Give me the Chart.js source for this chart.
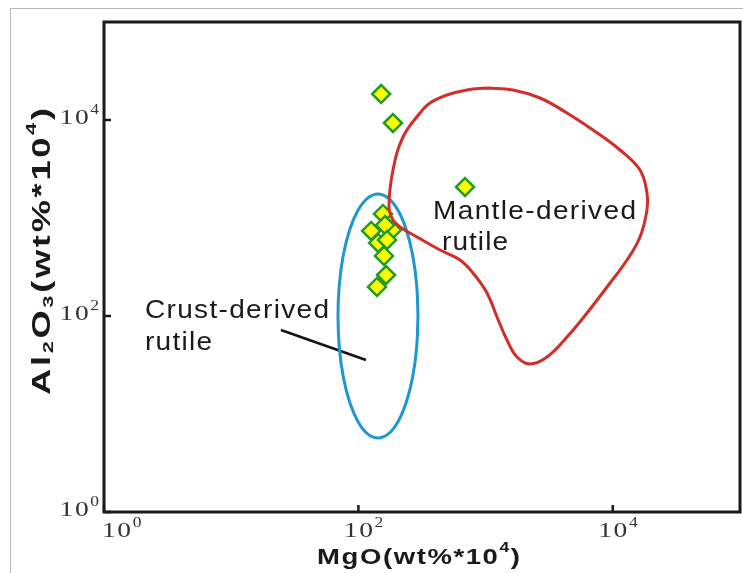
<!DOCTYPE html>
<html><head><meta charset="utf-8">
<style>html,body{margin:0;padding:0;background:#fff;}#c{display:block;}</style>
<script src="https://cdn.jsdelivr.net/npm/chart.js@4.4.1/dist/chart.umd.min.js"></script>
</head><body>
<canvas id="c" width="743" height="573"></canvas>
<script>
// ---- data ----
const xTicks = [1, 100, 10000];
const yTicks = [1, 100, 10000];
const tickBase = '10';
const xTickExponents = ['0', '2', '4'];
const yTickExponents = ['0', '2', '4'];

// rutile samples (MgO, Al2O3 in wt%*10^4)
const sampleMgO   = [184, 156, 126, 162, 143, 168, 159, 165, 140, 151, 187, 689];
const sampleAl2O3 = [755, 1099, 737, 848, 556, 597, 410, 262, 198, 18420, 9320, 2072];

// mantle-derived rutile field outline
const mantleMgO   = [1026, 1642, 2677, 4364, 6987, 11390, 16360, 18570, 18570, 16360, 12930, 9004, 6270, 4364, 3039, 2234, 1766, 1473, 1229, 1026, 796, 629, 438, 289, 212.3, 187.1, 174, 187.1, 224.2, 305, 365.5, 497, 714, 1026];
const mantleAl2O3 = [21210, 20240, 16770, 11790, 7907, 4941, 3090, 1799, 1207, 640, 372.8, 197.7, 107.3, 61.05, 38.15, 32.37, 38.15, 56.9, 97.7, 171.7, 274.7, 372.8, 471.6, 640, 809.6, 954, 1295, 3090, 6706, 11790, 14910, 17990, 20240, 21210];

// crust-derived rutile field outline
const crustMgO   = [294.1, 286.9, 266.9, 237.9, 204.8, 171.9, 142.6, 118.2, 99.3, 85.4, 76.1, 70.8, 69.1, 70.8, 76.1, 85.4, 99.3, 118.2, 142.6, 171.9, 204.8, 237.9, 266.9, 286.9, 294.1];
const crustAl2O3 = [100, 210.0, 419.4, 759.2, 1197.5, 1594, 1758, 1594, 1197.5, 759.2, 419.4, 210.0, 100, 47.6, 23.85, 13.17, 8.35, 6.27, 5.69, 6.27, 8.35, 13.17, 23.85, 47.6, 100];

// leader line from the crust label
const leaderMgO   = [24.6, 114.7];
const leaderAl2O3 = [72.0, 35.6];

const crustLabel  = ['Crust-derived', 'rutile'];
const mantleLabel = ['Mantle-derived', 'rutile'];
const xTitleSegs = [{t: 'MgO(wt%*10'}, {t: '4', k: 'sup'}, {t: ')'}];
const yTitleSegs = [{t: 'Al'}, {t: '2', k: 'sub'}, {t: 'O'}, {t: '3', k: 'sub'}, {t: '(wt%*10'}, {t: '4', k: 'sup'}, {t: ')'}];

const zip = (xs, ys) => xs.map((x, i) => ({x, y: ys[i]}));

// ---- text helper ----
function drawSegs(ctx, segs, x, y, o) {
  const st = o.stretch || 1;
  const items = [];
  segs.forEach(s => {
    const small = s.k === 'sup' || s.k === 'sub';
    const sz = small ? o.small : o.size;
    const dy = s.k === 'sup' ? o.supDy : (s.k === 'sub' ? o.subDy : 0);
    const font = `${o.weight || 'normal'} ${sz}px ${o.family}`;
    ctx.font = font;
    for (const ch of s.t) items.push({ch, font, dy, w: ctx.measureText(ch).width * st});
  });
  const natural = items.reduce((a, b) => a + b.w, 0);
  let sp = o.spacing || 0;
  if (o.width && items.length > 1) sp = (o.width - natural) / (items.length - 1);
  const total = natural + sp * (items.length - 1);
  let sx = o.align === 'center' ? x - total / 2 : (o.align === 'right' ? x - total : x);
  ctx.fillStyle = o.color || '#1a1a1a';
  ctx.textBaseline = 'alphabetic';
  ctx.textAlign = 'left';
  items.forEach(it => {
    ctx.font = it.font;
    ctx.save();
    ctx.translate(sx, y + it.dy);
    ctx.scale(st, 1);
    ctx.fillText(it.ch, 0, 0);
    ctx.restore();
    sx += it.w + sp;
  });
  return total;
}
function textWidth(ctx, str, font, sp, st) {
  ctx.font = font; let w = 0;
  for (const ch of str) w += ctx.measureText(ch).width * st;
  return w + sp * (str.length - 1);
}

const decor = {
  id: 'decor',
  beforeDraw(chart) {
    const ctx = chart.ctx;
    ctx.save();
    ctx.fillStyle = '#fff';
    ctx.fillRect(0, 0, chart.width, chart.height);
    ctx.strokeStyle = '#b8b8b8';
    ctx.lineWidth = 1;
    ctx.strokeRect(10.5, 8.5, 800, 700);
    ctx.restore();
  },
  afterDraw(chart) {
    const ctx = chart.ctx, a = chart.chartArea;
    const xs = chart.scales.x, ys = chart.scales.y;
    ctx.save();
    // frame
    ctx.strokeStyle = '#1a1a1a';
    ctx.lineWidth = 3;
    ctx.strokeRect(a.left, a.top, a.right - a.left, a.bottom - a.top);
    // inward ticks
    ctx.lineWidth = 2.5;
    ctx.beginPath();
    xTicks.forEach(v => { const px = xs.getPixelForValue(v); ctx.moveTo(px, a.bottom); ctx.lineTo(px, a.bottom - 7); });
    yTicks.forEach(v => { const py = ys.getPixelForValue(v); ctx.moveTo(a.left, py); ctx.lineTo(a.left + 7, py); });
    ctx.stroke();

    // tick labels
    const serif = '"Liberation Serif", "Times New Roman", serif';
    const mainFont = `22px ${serif}`;
    const tsp = 1.6, tst = 1.25;
    const tickOpt = {size: 22, small: 14, supDy: -10, family: serif, spacing: tsp, stretch: tst, color: '#333'};
    xTicks.forEach((v, i) => {
      const px = xs.getPixelForValue(v);
      const w10 = textWidth(ctx, tickBase, mainFont, tsp, tst);
      let left = px - w10 / 2;
      if (left < a.left - 2) left = a.left - 2;
      drawSegs(ctx, [{t: tickBase}, {t: xTickExponents[i], k: 'sup'}], left, a.bottom + 25,
        Object.assign({}, tickOpt, {align: 'left'}));
    });
    yTicks.forEach((v, i) => {
      const py = ys.getPixelForValue(v);
      drawSegs(ctx, [{t: tickBase}, {t: yTickExponents[i], k: 'sup'}], a.left - 5, py + 4,
        Object.assign({}, tickOpt, {align: 'right'}));
    });

    // axis titles
    const sans = '"Liberation Sans", Arial, sans-serif';
    drawSegs(ctx, xTitleSegs, (a.left + a.right) / 2 - 3.5, a.bottom + 52,
      {size: 22, small: 14, supDy: -12, weight: 'bold', family: sans, stretch: 1.25, width: 203, align: 'center'});
    ctx.save();
    ctx.translate(50, 251.5);
    ctx.rotate(-Math.PI / 2);
    drawSegs(ctx, yTitleSegs, 0, 0,
      {size: 25, small: 15, supDy: -14, subDy: 3, weight: 'bold', family: sans, stretch: 1.45, width: 287, align: 'center'});
    ctx.restore();

    // annotations
    const ann = {size: 25, family: sans, stretch: 1.12, align: 'left', color: '#1a1a1a'};
    drawSegs(ctx, [{t: crustLabel[0]}], xs.getPixelForValue(2.10), ys.getPixelForValue(95.4), Object.assign({}, ann, {width: 184}));
    drawSegs(ctx, [{t: crustLabel[1]}], xs.getPixelForValue(2.10), ys.getPixelForValue(44.98), Object.assign({}, ann, {width: 67}));
    drawSegs(ctx, [{t: mantleLabel[0]}], xs.getPixelForValue(385.9), ys.getPixelForValue(976.8), Object.assign({}, ann, {width: 203}));
    drawSegs(ctx, [{t: mantleLabel[1]}], xs.getPixelForValue(454.2), ys.getPixelForValue(471.6), Object.assign({}, ann, {width: 66}));
    ctx.restore();
  }
};

new Chart(document.getElementById('c'), {
  type: 'scatter',
  data: {
    datasets: [
      {label: 'Mantle-derived rutile field', data: zip(mantleMgO, mantleAl2O3), showLine: true,
        borderColor: '#d12e2a', borderWidth: 3, pointRadius: 0, tension: 0.4, fill: false, order: 1},
      {label: 'Crust-derived rutile field', data: zip(crustMgO, crustAl2O3), showLine: true,
        borderColor: '#1d96d4', borderWidth: 3, pointRadius: 0, tension: 0.4, fill: false, order: 2},
      {label: 'leader', data: zip(leaderMgO, leaderAl2O3), showLine: true,
        borderColor: '#141414', borderWidth: 2.5, pointRadius: 0, tension: 0, order: 2},
      {label: 'Rutile', data: zip(sampleMgO, sampleAl2O3), pointStyle: 'rectRot', pointRadius: 9,
        borderWidth: 2.5, backgroundColor: '#ffff00', borderColor: '#249a27', order: 3}
    ]
  },
  options: {
    responsive: false,
    devicePixelRatio: 1,
    animation: false,
    events: [],
    layout: {autoPadding: false, padding: {left: 104, right: 3, top: 22, bottom: 61}},
    plugins: {legend: {display: false}, tooltip: {enabled: false}},
    scales: {
      x: {type: 'logarithmic', min: 1, max: 100000, display: false},
      y: {type: 'logarithmic', min: 1, max: 100000, display: false}
    }
  },
  plugins: [decor]
});
</script>
</body></html>
